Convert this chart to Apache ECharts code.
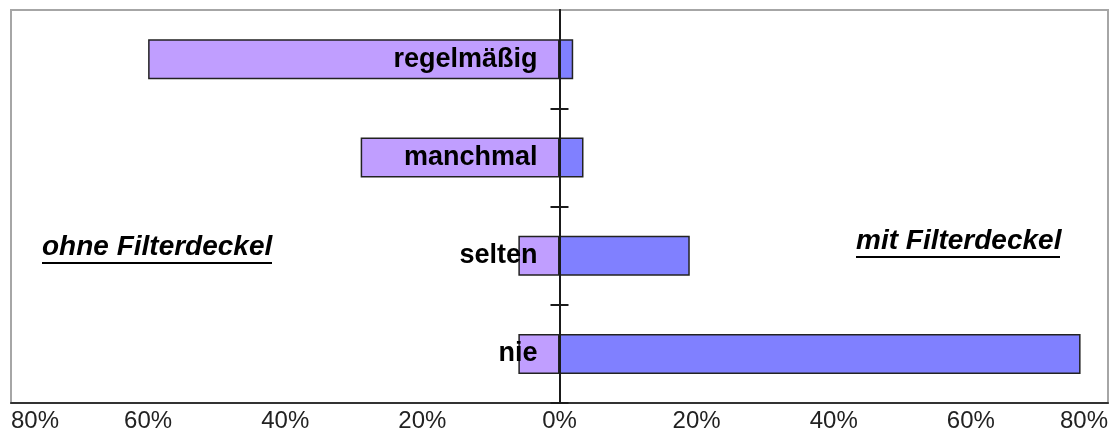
<!DOCTYPE html>
<html>
<head>
<meta charset="utf-8">
<script src="https://cdn.jsdelivr.net/npm/echarts@6/dist/echarts.min.js"></script>
<style>
  html, body { margin: 0; padding: 0; background: #fff; }
  #chart { width: 1120px; height: 432px; }
</style>
</head>
<body>
<div id="chart"></div>
<script>
// Häufigkeit, Anteile in %
const categories = ['regelmäßig', 'manchmal', 'selten', 'nie']
const ohneFilterdeckel = [60, 29, 6, 6]
const mitFilterdeckel = [2, 3.5, 19, 76]
const sideLabels = ['ohne Filterdeckel', 'mit Filterdeckel']

const font = "'Liberation Sans', Arial, sans-serif"
const chart = echarts.init(document.getElementById('chart'))

// the category axis sits on 0 %, in the middle of the plot
const gridLeft = 11
const gridRight = 12
const zeroOffset = -(1120 - gridLeft - gridRight) / 2

const catAxis = (extra) => Object.assign({
  type: 'category',
  data: categories,
  inverse: true,
  position: 'left',
  offset: zeroOffset,
  z: 10,
  axisLine: { show: true, onZero: false, lineStyle: { color: '#1a1a1a', width: 2 } },
  splitLine: { show: false }
}, extra)

const tickStyle = { color: '#1a1a1a', width: 2 }

chart.setOption({
  animation: false,
  grid: {
    left: gridLeft, right: gridRight, top: 10, bottom: 29,
    outerBoundsMode: 'none', containLabel: false,
    show: true, borderColor: '#a6a6a6', borderWidth: 2
  },
  xAxis: {
    type: 'value',
    min: -80,
    max: 80,
    interval: 20,
    splitLine: { show: false },
    axisTick: { show: false },
    axisLine: { show: true, onZero: false, lineStyle: { color: '#333', width: 2 } },
    axisLabel: {
      formatter: v => Math.abs(v) + '%',
      color: '#222',
      fontFamily: font,
      fontSize: 24,
      margin: 6,
      alignMinLabel: 'left',
      alignMaxLabel: 'right'
    }
  },
  yAxis: [
    catAxis({
      axisTick: { show: true, length: 9, interval: i => i > 0, lineStyle: tickStyle },
      axisLabel: {
        color: '#000',
        fontFamily: font,
        fontSize: 27,
        fontWeight: 'bold',
        margin: 22
      }
    }),
    catAxis({
      axisTick: { show: true, inside: true, length: 9, interval: i => i > 0, lineStyle: tickStyle },
      axisLabel: { show: false }
    })
  ],
  series: [
    {
      name: sideLabels[0],
      type: 'bar',
      stack: 'total',
      barWidth: 40,
      data: ohneFilterdeckel.map(v => -v),
      itemStyle: { color: '#c09eff', borderColor: '#222', borderWidth: 1.5 }
    },
    {
      name: sideLabels[1],
      type: 'bar',
      stack: 'total',
      barWidth: 40,
      data: mitFilterdeckel,
      itemStyle: { color: '#8080ff', borderColor: '#222', borderWidth: 1.5 }
    }
  ],
  graphic: [
    {
      type: 'text', left: 42, top: 233, z: 20,
      style: { text: sideLabels[0], font: 'italic bold 28px ' + font, fill: '#000' }
    },
    { type: 'rect', left: 42, top: 262, z: 20, shape: { width: 230, height: 2 }, style: { fill: '#000' } },
    {
      type: 'text', left: 856, top: 227, z: 20,
      style: { text: sideLabels[1], font: 'italic bold 28px ' + font, fill: '#000' }
    },
    { type: 'rect', left: 856, top: 256, z: 20, shape: { width: 204, height: 2 }, style: { fill: '#000' } }
  ]
})
</script>
</body>
</html>
